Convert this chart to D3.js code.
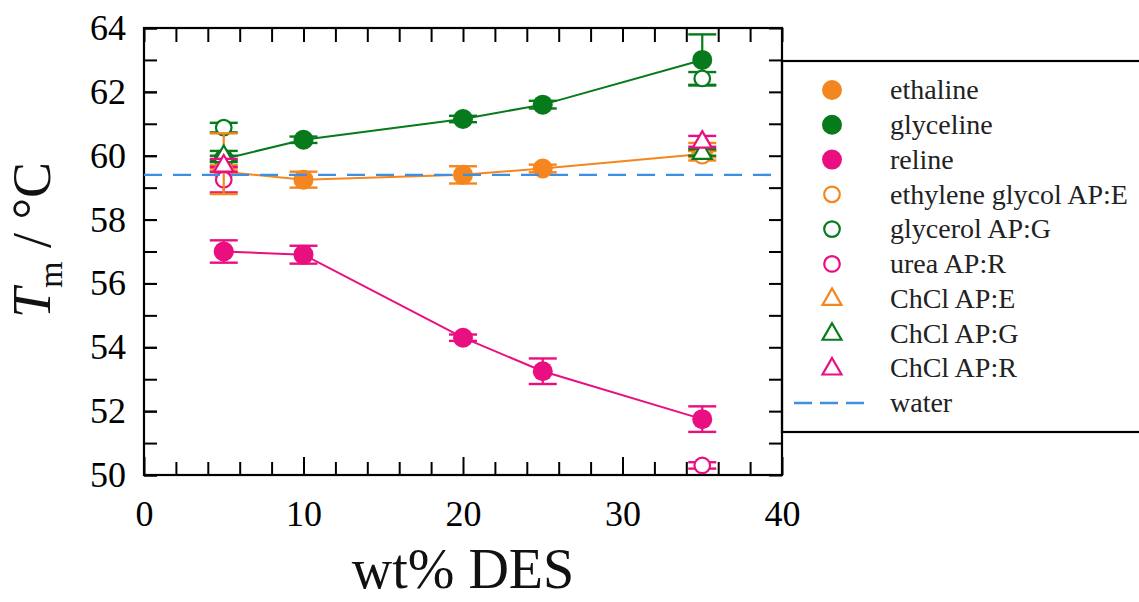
<!DOCTYPE html>
<html>
<head>
<meta charset="utf-8">
<script src="https://cdn.jsdelivr.net/npm/d3@7"></script>
<style>
  html, body { margin: 0; padding: 0; background: #fff; }
  svg { display: block; font-family: "Liberation Serif", "Times New Roman", serif; }
</style>
</head>
<body>
<svg id="chart" width="1139" height="602"></svg>
<script>
// wt% DES values measured
const wtDES = [5, 10, 20, 25, 35];
const wtPair = [5, 35];

// melting temperature (°C) and error bars for the neat DES series
const ethaline = [59.5, 59.25, 59.4, 59.6, 60.05];
const ethalineErr = [0.1, 0.25, 0.27, 0.12, 0.1];
const glyceline = [59.9, 60.5, 61.15, 61.6, 63.0];
const glycelineErr = [0.1, 0.1, 0.1, 0.12, 0.8];
const reline = [57.0, 56.9, 54.3, 53.25, 51.75];
const relineErr = [0.35, 0.28, 0.1, 0.4, 0.4];

// individual components at 5 and 35 wt%
const egAPE = [59.6, 60.0];
const egAPEErr = [0.1, 0.15];
const glycerolAPG = [60.88, 62.42];
const glycerolAPGErr = [0.15, 0.2];
const ureaAPR = [59.25, 50.3];
const ureaAPRErr = [0.4, 0.1];
const chclAPE = [59.75, 60.3];
const chclAPEErr = [0.95, 0.1];
const chclAPG = [60.0, 60.1];
const chclAPGErr = [0.15, 0.1];
const chclAPR = [59.7, 60.45];
const chclAPRErr = [0.2, 0.17];

const water = 59.4;

const xTicks = [0, 10, 20, 30, 40];
const yTicks = [50, 52, 54, 56, 58, 60, 62, 64];

const legendLabels = ["ethaline", "glyceline", "reline", "ethylene glycol AP:E",
  "glycerol AP:G", "urea AP:R", "ChCl AP:E", "ChCl AP:G", "ChCl AP:R", "water"];

const ORANGE = "#f5861f", GREEN = "#077a1c", PINK = "#e90f80", BLUE = "#3d8fe2";

const series = [
  {name: legendLabels[0], xs: wtDES, ys: ethaline, err: ethalineErr, color: ORANGE, shape: "circle", filled: true, line: true},
  {name: legendLabels[1], xs: wtDES, ys: glyceline, err: glycelineErr, color: GREEN, shape: "circle", filled: true, line: true},
  {name: legendLabels[2], xs: wtDES, ys: reline, err: relineErr, color: PINK, shape: "circle", filled: true, line: true},
  {name: legendLabels[3], xs: wtPair, ys: egAPE, err: egAPEErr, color: ORANGE, shape: "circle", filled: false},
  {name: legendLabels[4], xs: wtPair, ys: glycerolAPG, err: glycerolAPGErr, color: GREEN, shape: "circle", filled: false},
  {name: legendLabels[5], xs: wtPair, ys: ureaAPR, err: ureaAPRErr, color: PINK, shape: "circle", filled: false},
  {name: legendLabels[6], xs: wtPair, ys: chclAPE, err: chclAPEErr, color: ORANGE, shape: "triangle", filled: false},
  {name: legendLabels[7], xs: wtPair, ys: chclAPG, err: chclAPGErr, color: GREEN, shape: "triangle", filled: false},
  {name: legendLabels[8], xs: wtPair, ys: chclAPR, err: chclAPRErr, color: PINK, shape: "triangle", filled: false}
];

const svg = d3.select("#chart");
const plotLeft = 144, plotRight = 782, plotTop = 28, plotBottom = 475;

const x = d3.scaleLinear().domain([0, 40]).range([plotLeft, plotRight]);
const y = d3.scaleLinear().domain([50, 64]).range([plotBottom, plotTop]);

// axes: ticks point inward on all four sides
const axisG = svg.append("g").attr("class", "axes");

function styleAxis(g) {
  g.select(".domain").remove();
  g.selectAll(".tick line").attr("stroke", "#000").attr("stroke-width", 2);
  g.selectAll(".tick text").attr("fill", "#000").attr("font-size", 36)
    .attr("font-family", "'Liberation Serif','Times New Roman',serif");
}

// bottom: labelled majors, minors every 2
axisG.append("g").attr("transform", `translate(0,${plotBottom})`)
  .call(d3.axisBottom(x).tickValues(d3.range(0, 41, 2).filter(v => v % 10 !== 0)).tickSize(-13).tickFormat(""))
  .call(styleAxis);
axisG.append("g").attr("transform", `translate(0,${plotBottom})`)
  .call(d3.axisBottom(x).tickValues(xTicks).tickSize(-18).tickPadding(25).tickFormat(d3.format("d")))
  .call(styleAxis);
// top
axisG.append("g").attr("transform", `translate(0,${plotTop})`)
  .call(d3.axisTop(x).tickValues(d3.range(0, 41, 2)).tickSize(-14).tickFormat(""))
  .call(styleAxis);
// left: labelled every 2, ticks every 1
axisG.append("g").attr("transform", `translate(${plotLeft},0)`)
  .call(d3.axisLeft(y).tickValues(d3.range(50, 65, 1)).tickSize(-13).tickFormat(""))
  .call(styleAxis);
axisG.append("g").attr("transform", `translate(${plotLeft},0)`)
  .call(d3.axisLeft(y).tickValues(yTicks).tickSize(-13).tickPadding(18).tickFormat(d3.format("d")))
  .call(styleAxis);
// right
axisG.append("g").attr("transform", `translate(${plotRight},0)`)
  .call(d3.axisRight(y).tickValues(d3.range(50, 65, 1)).tickSize(-13).tickFormat(""))
  .call(styleAxis);

// frame
svg.append("rect")
  .attr("x", plotLeft).attr("y", plotTop).attr("width", plotRight - plotLeft).attr("height", plotBottom - plotTop)
  .attr("fill", "none").attr("stroke", "#000").attr("stroke-width", 2.2);

// marker drawing
const triPath = (cx, cy, s) => {
  const h = s * 0.87;
  return `M${cx},${cy - h * 0.62}L${cx + s / 2},${cy + h * 0.38}L${cx - s / 2},${cy + h * 0.38}Z`;
};

function drawMarker(g, shape, filled, color, cx, cy, scale) {
  const k = scale || 1;
  if (shape === "circle") {
    if (filled) {
      g.append("circle").attr("cx", cx).attr("cy", cy).attr("r", 10 * k).attr("fill", color);
    } else {
      g.append("circle").attr("cx", cx).attr("cy", cy).attr("r", 7.8 * k)
        .attr("fill", "#fff").attr("stroke", color).attr("stroke-width", 2.2);
    }
  } else {
    g.append("path").attr("d", triPath(cx, cy, 19 * k))
      .attr("fill", "#fff").attr("stroke", color).attr("stroke-width", 2.2).attr("stroke-linejoin", "miter");
  }
}

const plot = svg.append("g").attr("class", "plot");
const line = d3.line().x(d => x(d[0])).y(d => y(d[1]));

series.forEach(s => {
  const g = plot.append("g");
  const pts = s.xs.map((v, i) => [v, s.ys[i], s.err[i]]);
  if (s.line) {
    g.append("path").datum(pts).attr("d", line)
      .attr("fill", "none").attr("stroke", s.color).attr("stroke-width", 2);
  }
  pts.forEach(p => {
    const cx = x(p[0]);
    const y0 = y(p[1] - p[2]), y1 = y(p[1] + p[2]);
    g.append("line").attr("x1", cx).attr("x2", cx).attr("y1", y0).attr("y2", y1)
      .attr("stroke", s.color).attr("stroke-width", 2.2);
    [y0, y1].forEach(yy => g.append("line")
      .attr("x1", cx - 14).attr("x2", cx + 14).attr("y1", yy).attr("y2", yy)
      .attr("stroke", s.color).attr("stroke-width", 2.4));
    drawMarker(g, s.shape, s.filled, s.color, cx, y(p[1]));
  });
});

// water reference line
plot.append("line")
  .attr("x1", x(0)).attr("x2", x(40) - 6).attr("y1", y(water)).attr("y2", y(water))
  .attr("stroke", BLUE).attr("stroke-width", 2.4).attr("stroke-dasharray", "18,11");

// legend box
const lg = svg.append("g").attr("class", "legend");
lg.append("rect").attr("x", plotRight).attr("y", 61).attr("width", 400).attr("height", 371)
  .attr("fill", "none").attr("stroke", "#000").attr("stroke-width", 2.2);

const rowY = d3.scaleLinear().domain([0, 9]).range([90, 403]);
series.forEach((s, i) => {
  drawMarker(lg, s.shape, s.filled, s.color, 832, rowY(i), 1);
  lg.append("text").attr("x", 890).attr("y", rowY(i)).attr("dy", "0.33em")
    .attr("font-size", 28).attr("fill", "#222").text(s.name);
});
lg.append("line").attr("x1", 794).attr("x2", 864).attr("y1", rowY(9)).attr("y2", rowY(9))
  .attr("stroke", BLUE).attr("stroke-width", 2.4).attr("stroke-dasharray", "18,8");
lg.append("text").attr("x", 890).attr("y", rowY(9)).attr("dy", "0.33em")
  .attr("font-size", 28).attr("fill", "#222").text(legendLabels[9]);

// axis titles
svg.append("text").attr("x", (plotLeft + plotRight) / 2).attr("y", 588)
  .attr("text-anchor", "middle").attr("font-size", 56).attr("fill", "#111").text("wt% DES");

const yt = svg.append("text").attr("transform", "translate(50,240) rotate(-90)")
  .attr("text-anchor", "middle").attr("font-size", 54).attr("fill", "#111");
yt.append("tspan").attr("font-style", "italic").text("T");
yt.append("tspan").attr("font-size", 34).attr("dy", 12).text("m");
yt.append("tspan").attr("dy", -12).text(" / °C");
</script>
</body>
</html>
